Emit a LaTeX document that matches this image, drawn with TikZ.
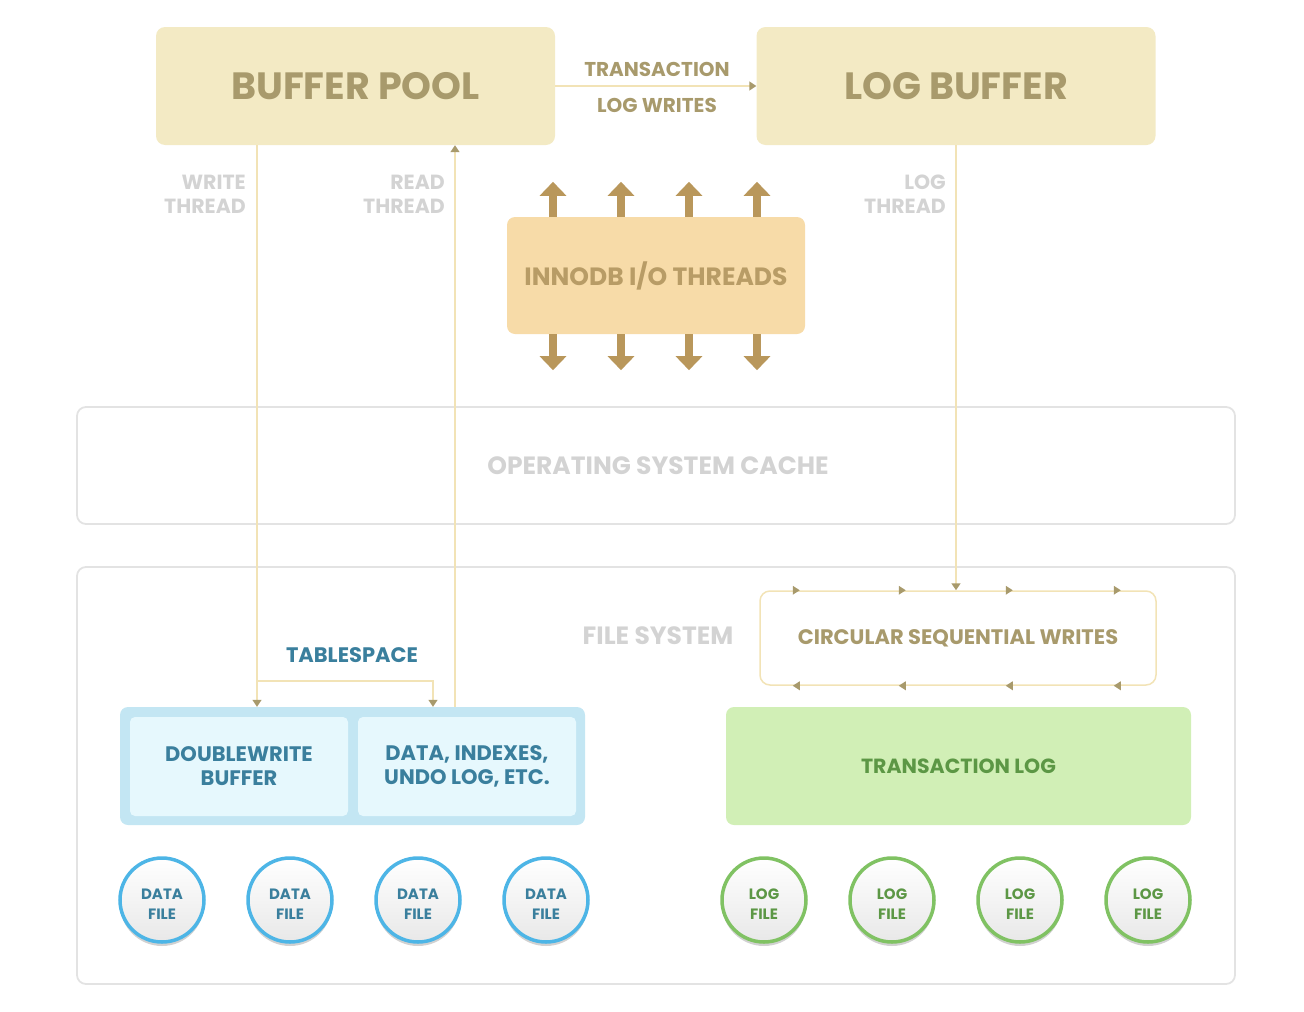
\documentclass[tikz,border=0pt]{standalone}
\usepackage{fontspec}
\setmainfont{Poppins}
\usetikzlibrary{arrows.meta,shadows}
\definecolor{beige}{HTML}{F3EAC4}
\definecolor{olive}{HTML}{A89A6C}
\definecolor{lineC}{HTML}{F2E3B6}
\definecolor{orangeF}{HTML}{F7DBA8}
\definecolor{ioText}{HTML}{B89C66}
\definecolor{bigArrow}{HTML}{B9975B}
\definecolor{greyText}{HTML}{D3D3D3}
\definecolor{greyLine}{HTML}{E3E3E3}
\definecolor{blueOuter}{HTML}{C3E6F3}
\definecolor{blueInner}{HTML}{E6F8FD}
\definecolor{tealT}{HTML}{3A7F9D}
\definecolor{blueRing}{HTML}{4DB5E6}
\definecolor{greenF}{HTML}{D1EFB6}
\definecolor{greenText}{HTML}{5C9745}
\definecolor{greenRing}{HTML}{80C263}
\begin{document}
\begin{tikzpicture}[x=1pt,y=-1pt,
  bigbox/.style={fill=beige,rounded corners=9pt,minimum width=399pt,minimum height=118pt,
     text=olive,font=\bfseries\fontsize{38}{40}\selectfont,inner sep=0pt},
  conn/.style={draw=lineC,line width=1.5pt},
  ctip/.style={-{Triangle[length=7pt,width=9pt,color=olive]}},
  bigarr/.style={draw=bigArrow,line width=8pt,-{Triangle[length=14pt,width=26pt,color=bigArrow]}},
  greylab/.style={text=greyText,font=\bfseries\fontsize{20.5}{24}\selectfont,align=right,inner sep=0pt},
  olivelab/.style={text=olive,font=\bfseries\fontsize{20}{22}\selectfont,inner sep=0pt},
  bigfaint/.style={text=greyText,font=\bfseries\fontsize{25}{28}\selectfont,inner sep=0pt},
  frame/.style={draw=greyLine,line width=1.8pt,rounded corners=9pt,minimum width=1158pt},
  inner/.style={fill=blueInner,rounded corners=5pt,minimum width=218pt,minimum height=99pt,
     text=tealT,font=\bfseries\fontsize{21}{24}\selectfont,align=center,inner sep=0pt},
  filec/.style={circle,line width=3.5pt,minimum size=84pt,inner sep=0pt,
     top color=white,bottom color=black!9,
     drop shadow={shadow xshift=0pt,shadow yshift=-4pt,opacity=0.18,fill=black}},
  flab/.style={yshift=-4pt,align=center,inner sep=0pt,font=\bfseries\fontsize{15}{20}\selectfont},
  datafile/.style={filec,draw=blueRing,label={[flab,text=tealT]center:DATA\\FILE}},
  logfile/.style={filec,draw=greenRing,label={[flab,text=greenText]center:LOG\\FILE}}
]
\useasboundingbox (0,0) rectangle (1304,1012);

% frames
\node[frame,minimum height=117pt] (os) at (656,465.5) {};
\node[bigfaint] (oslab) at (658,466) {OPERATING SYSTEM CACHE};
\node[frame,minimum height=417pt] (fs) at (656,775.5) {};
\node[bigfaint] (fslab) at (658,636) {FILE SYSTEM};

% top boxes
\node[bigbox] (bp) at (355.5,86) {BUFFER POOL};
\node[bigbox] (lb) at (956,86) {LOG BUFFER};
\draw[conn,ctip] (bp.east) -- (lb.west);
\node[olivelab] (tr1) at (657,69) {TRANSACTION};
\node[olivelab] (tr2) at (657,105) {LOG WRITES};

% io threads
\node[fill=orangeF,rounded corners=8pt,minimum width=298pt,minimum height=117pt,
   text=ioText,font=\bfseries\fontsize{25}{28}\selectfont,inner sep=0pt] (io) at (656,275.5) {INNODB I/O THREADS};
\foreach \x [count=\i] in {553,621,689,757}{
  \coordinate (ax\i) at (\x,0);
  \draw[bigarr] (io.north -| ax\i) -- ++(0,-35);
  \draw[bigarr] (io.south -| ax\i) -- ++(0,36);
}

% thread labels
\node[greylab,anchor=north east] (wt) at (246,175) {WRITE\\THREAD};
\node[greylab,anchor=north east] (rt) at (445,175) {READ\\THREAD};
\node[greylab,anchor=north east] (lt) at (946,175) {LOG\\THREAD};

% tablespace
\node[fill=blueOuter,rounded corners=8pt,minimum width=465pt,minimum height=118pt] (ts) at (352.5,766) {};
\node[inner] (dw) at (239,766.5) {DOUBLEWRITE\\BUFFER};
\node[inner] (di) at (467,766.5) {DATA, INDEXES,\\UNDO LOG, ETC.};
\node[text=tealT,font=\bfseries\fontsize{21}{24}\selectfont,inner sep=0pt] (tslab) at (352,655) {TABLESPACE};

% write / read thread connectors
\coordinate (w1) at (257,681);
\coordinate (w2) at (433,681);
\coordinate (r1) at (455,707);
\draw[conn,ctip] (bp.south -| w1) -- (ts.north -| w1);
\draw[conn,ctip] (w1) -| (ts.north -| w2);
\draw[conn,ctip] (ts.north -| r1) -- (bp.south -| r1);

% circular sequential writes
\node[draw=lineC,line width=1.5pt,rounded corners=10pt,minimum width=396pt,minimum height=94pt,
   text=olive,font=\bfseries\fontsize{21}{24}\selectfont] (csw) at (958,638) {CIRCULAR SEQUENTIAL WRITES};
\foreach \dx in {37,143,250,358}{
  \fill[olive] ([xshift=\dx pt]csw.north west) ++(-3.5,-4.5) -- ++(7,4.5) -- ++(-7,4.5) -- cycle;
  \fill[olive] ([xshift=\dx pt]csw.south west) ++(3.5,-4.5) -- ++(-7,4.5) -- ++(7,4.5) -- cycle;
}
\draw[conn,ctip] (lb.south) -- (lb.south |- csw.north);

% transaction log
\node[fill=greenF,rounded corners=8pt,minimum width=465pt,minimum height=118pt,
   text=greenText,font=\bfseries\fontsize{20.5}{24}\selectfont] (tl) at (958.5,766) {TRANSACTION LOG};

% files
\foreach \x [count=\i] in {162,290,418,546}{
  \node[datafile] (d\i) at (\x,900) {};
}
\foreach \x [count=\i] in {764,892,1020,1148}{
  \node[logfile] (l\i) at (\x,900) {};
}
\end{tikzpicture}
\end{document}
